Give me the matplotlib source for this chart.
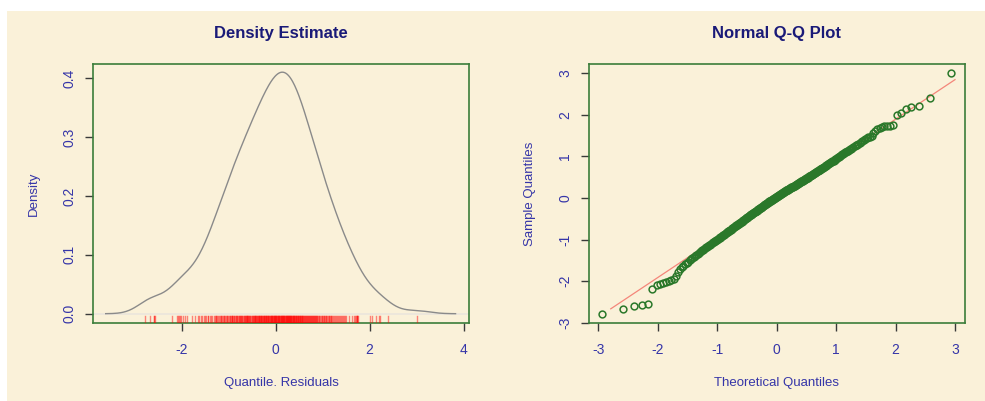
from statistics import NormalDist

import numpy as np
import matplotlib
matplotlib.use('Agg')
import matplotlib.pyplot as plt
from matplotlib.patches import Rectangle

# sorted quantile residuals
residuals = [
    -2.79, -2.67, -2.59, -2.58, -2.56, -2.20, -2.10, -2.07, -2.05, -2.03,
    -2.01, -1.98, -1.94, -1.88, -1.78, -1.72, -1.66, -1.63, -1.60, -1.56,
    -1.53, -1.50, -1.48, -1.45, -1.43, -1.40, -1.37, -1.35, -1.32, -1.30,
    -1.28, -1.26, -1.25, -1.23, -1.21, -1.19, -1.17, -1.16, -1.14, -1.12,
    -1.10, -1.09, -1.07, -1.06, -1.04, -1.03, -1.01, -1.00, -0.98, -0.97,
    -0.96, -0.94, -0.93, -0.92, -0.90, -0.89, -0.88, -0.86, -0.85, -0.84,
    -0.83, -0.82, -0.80, -0.79, -0.78, -0.77, -0.76, -0.74, -0.73, -0.72,
    -0.71, -0.70, -0.68, -0.67, -0.66,
    -0.65, -0.64, -0.63, -0.62, -0.61, -0.60, -0.59, -0.58, -0.57, -0.56,
    -0.55, -0.54, -0.53, -0.51, -0.50, -0.49, -0.48, -0.47, -0.46, -0.45,
    -0.44, -0.43, -0.42, -0.41, -0.40,
    -0.391, -0.382, -0.374, -0.365, -0.356, -0.347, -0.338, -0.329, -0.321, -0.312,
    -0.303, -0.294, -0.285, -0.276, -0.268, -0.259, -0.250, -0.241, -0.232, -0.224,
    -0.215, -0.206, -0.197, -0.188, -0.179, -0.171, -0.162, -0.153, -0.144, -0.135,
    -0.126, -0.118, -0.109, -0.100,
    -0.092, -0.084, -0.077, -0.069, -0.061, -0.053, -0.045, -0.038, -0.030, -0.022,
    -0.014, -0.006, 0.002, 0.009, 0.017, 0.025, 0.033, 0.041, 0.048, 0.056,
    0.064, 0.072, 0.080, 0.088, 0.095, 0.103, 0.111, 0.119, 0.127, 0.134,
    0.142, 0.150,
    0.157, 0.165, 0.172, 0.180, 0.187, 0.194, 0.202, 0.209, 0.217, 0.224,
    0.231, 0.239, 0.246, 0.254, 0.261, 0.269, 0.276, 0.283, 0.291, 0.298,
    0.306, 0.313, 0.320, 0.328, 0.335, 0.343, 0.350,
    0.358, 0.367, 0.375, 0.383, 0.392, 0.400, 0.408, 0.417, 0.425, 0.433,
    0.442, 0.450, 0.458, 0.467, 0.475, 0.483, 0.492, 0.500, 0.508, 0.517,
    0.525, 0.533, 0.542, 0.550,
    0.56, 0.57, 0.58, 0.59, 0.60, 0.61, 0.62, 0.63, 0.64, 0.65,
    0.66, 0.67, 0.68, 0.69, 0.70,
    0.711, 0.722, 0.733, 0.744, 0.756, 0.767, 0.778, 0.789, 0.800, 0.811,
    0.822, 0.833, 0.844, 0.856, 0.867, 0.878, 0.889, 0.900,
    0.915, 0.930, 0.945, 0.960, 0.975, 0.990, 1.005, 1.020, 1.035, 1.050,
    1.065, 1.080, 1.095, 1.110, 1.125, 1.140, 1.155, 1.170, 1.185, 1.200,
    1.221, 1.243, 1.264, 1.286, 1.307, 1.329, 1.350, 1.371, 1.393, 1.414,
    1.436, 1.457, 1.479, 1.500,
    1.56, 1.62, 1.66, 1.69, 1.71, 1.72, 1.73, 1.74, 1.75,
    2.00, 2.04, 2.14, 2.19, 2.21, 2.40, 3.00,
]

dens_xticks = [-2, 0, 2, 4]
dens_yticks = [0.0, 0.1, 0.2, 0.3, 0.4]
qq_ticks = [-3, -2, -1, 0, 1, 2, 3]

bg = '#faf1d9'
box_col = '#3a7d3a'
tick_col = '#3a3a3a'
lab_col = '#3535a8'
title_col = '#1a1a78'

plt.rcParams['font.family'] = ['Liberation Sans', 'DejaVu Sans']

x = np.array(residuals)
n = len(x)

# gaussian kernel density, bw.nrd0 like R
iqr = np.subtract(*np.percentile(x, [75, 25]))
bw = 0.9 * min(x.std(ddof=1), iqr / 1.34) * n ** -0.2
grid = np.linspace(x.min() - 3 * bw, x.max() + 3 * bw, 512)
dens = np.exp(-0.5 * ((grid[:, None] - x[None, :]) / bw) ** 2).sum(axis=1) / (n * bw * np.sqrt(2 * np.pi))

# theoretical quantiles (ppoints) and qq line through quartiles
nd = NormalDist()
theo = np.array([nd.inv_cdf((i + 0.5) / n) for i in range(n)])
q1, q3 = np.percentile(x, [25, 75])
slope = (q3 - q1) / (nd.inv_cdf(0.75) - nd.inv_cdf(0.25))
intercept = q1 - slope * nd.inv_cdf(0.25)

fig = plt.figure(figsize=(9.85, 4.01), dpi=100, facecolor='white')
fig.patches.append(Rectangle((7 / 985, 0), 1, 1 - 11 / 401, transform=fig.transFigure,
                             facecolor=bg, edgecolor='none', zorder=-10))

W, H = 985, 401
ax1 = fig.add_axes([92.7 / W, 1 - 323.3 / H, (469.3 - 92.7) / W, (323.3 - 64) / H])
ax2 = fig.add_axes([589 / W, 1 - 323.3 / H, (965 - 589) / W, (323.3 - 64) / H])

for ax in (ax1, ax2):
    ax.set_facecolor(bg)
    for s in ax.spines.values():
        s.set_color(box_col)
        s.set_linewidth(1.2)
    ax.tick_params(direction='out', length=6, width=1, color=tick_col,
                   labelcolor=lab_col, labelsize=10)
    ax.tick_params(axis='x', pad=8.5)
    ax.tick_params(axis='y', pad=6)

# density panel
ax1.axhline(0, color='#ebe6dc', lw=1.2, zorder=1)
ax1.plot(grid, dens, color='#8a8a8a', lw=1.0, zorder=2)
for v in x:
    ax1.axvline(v, ymin=0, ymax=0.03, color='red', alpha=0.45, lw=1.0, zorder=3)
ax1.set_xlim(-3.894, 4.12)
ax1.set_ylim(-0.0163, 0.4243)
ax1.set_xticks(dens_xticks)
ax1.set_xticklabels([str(t) for t in dens_xticks])
ax1.set_yticks(dens_yticks)
ax1.set_yticklabels([f'{t:.1f}' for t in dens_yticks], rotation=90, va='center')
ax1.set_title('Density Estimate', color=title_col, fontweight='bold', fontsize=12, pad=19)
ax1.set_xlabel('Quantile. Residuals', color=lab_col, fontsize=9.5, labelpad=14)
ax1.set_ylabel('Density', color=lab_col, fontsize=9.5, labelpad=16)

# qq panel
ax2.plot(theo, x, 'o', mfc='none', mec='#2a782a', mew=1.1, ms=4.9, zorder=3)
lx = np.array([x.min(), x.max()])
ax2.plot(lx, intercept + slope * lx, color='#f4867a', lw=0.9, zorder=2)
ax2.set_xlim(-3.156, 3.168)
ax2.set_ylim(-3.016, 3.224)
ax2.set_xticks(qq_ticks)
ax2.set_xticklabels([str(t) for t in qq_ticks])
ax2.set_yticks(qq_ticks)
ax2.set_yticklabels([str(t) for t in qq_ticks], rotation=90, va='center')
ax2.set_title('Normal Q-Q Plot', color=title_col, fontweight='bold', fontsize=12, pad=19)
ax2.set_xlabel('Theoretical Quantiles', color=lab_col, fontsize=9.5, labelpad=14)
ax2.set_ylabel('Sample Quantiles', color=lab_col, fontsize=9.5, labelpad=16)

fig.savefig('out.png', dpi=100, facecolor='white')
